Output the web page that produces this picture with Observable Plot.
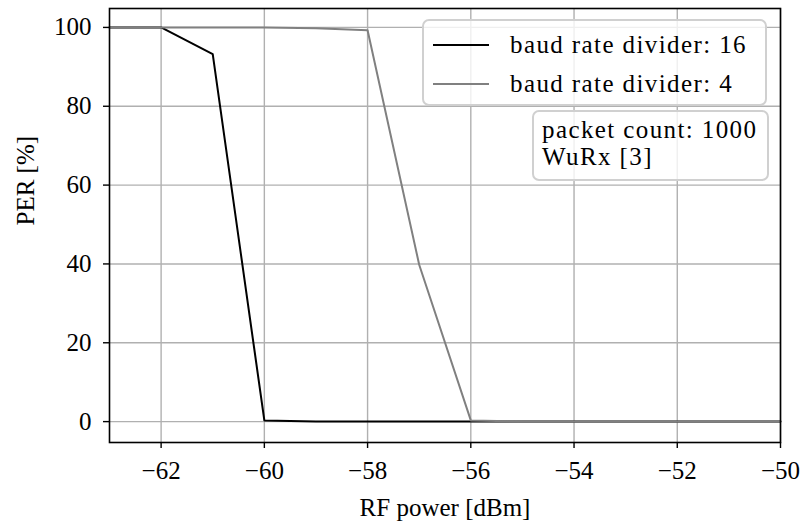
<!DOCTYPE html>
<html>
<head>
<meta charset="utf-8">
<script src="https://cdn.jsdelivr.net/npm/d3@7"></script>
<script src="https://cdn.jsdelivr.net/npm/@observablehq/plot@0.6"></script>
<style>
  html, body { margin: 0; padding: 0; background: #fff; }
  #wrap { position: relative; width: 805px; height: 525px; font-family: "Liberation Serif", serif; }
  .box { position: absolute; box-sizing: border-box; border: 2px solid #d0d0d0; border-radius: 7px; background: rgba(255,255,255,0.8); color: #000; font-size: 25px; letter-spacing: 1.4px; }
  .row { display: flex; align-items: center; height: 39px; }
  .row svg { margin-left: 9px; margin-right: 21px; }
</style>
</head>
<body>
<div id="wrap"></div>
<script>
const rfPower = [-63, -62, -61, -60, -59, -58, -57, -56, -55, -54, -53, -52, -51, -50];
const per16 = [100, 100, 93.2, 0.3, 0, 0, 0, 0, 0, 0, 0, 0, 0, 0];
const per4 = [100, 100, 100, 100, 99.8, 99.3, 39.8, 0.3, 0, 0, 0, 0, 0, 0];
const seriesNames = ["baud rate divider: 16", "baud rate divider: 4"];
const seriesColors = ["#000000", "#808080"];
const xTicks = [-62, -60, -58, -56, -54, -52, -50];
const yTicks = [0, 20, 40, 60, 80, 100];
const xLabel = "RF power [dBm]";
const yLabel = "PER [%]";
const noteLines = ["packet count: 1000", "WuRx [3]"];

const data = [];
rfPower.forEach((x, i) => data.push({x, y: per16[i], s: seriesNames[0]}));
rfPower.forEach((x, i) => data.push({x, y: per4[i], s: seriesNames[1]}));

const fmt = d => (d < 0 ? "\u2212" + Math.abs(d) : String(d));
const FS = 25;

const chart = Plot.plot({
  width: 805,
  height: 525,
  marginLeft: 109,
  marginRight: 25,
  marginTop: 8,
  marginBottom: 83,
  style: {fontFamily: "Liberation Serif, serif", fontSize: FS + "px", color: "#000", background: "#fff"},
  x: {domain: [-63, -50]},
  y: {domain: [-5.3, 104.8]},
  color: {domain: seriesNames, range: seriesColors},
  marks: [
    Plot.gridX(xTicks, {stroke: "#b0b0b0", strokeOpacity: 1, strokeWidth: 1.4}),
    Plot.gridY(yTicks, {stroke: "#b0b0b0", strokeOpacity: 1, strokeWidth: 1.4}),
    Plot.line(data, {x: "x", y: "y", z: "s", stroke: "s", strokeWidth: 2}),
    Plot.frame({stroke: "#000", strokeWidth: 1.6}),
    Plot.axisX(xTicks, {tickSize: 6, tickPadding: 13, tickFormat: fmt, label: null, stroke: "#000", strokeWidth: 1.4, fontSize: FS}),
    Plot.axisY(yTicks, {tickSize: 6, tickPadding: 12, tickFormat: fmt, label: null, stroke: "#000", strokeWidth: 1.4, fontSize: FS}),
    Plot.text([xLabel], {text: d => d, frameAnchor: "bottom", dy: 73, fontSize: FS}),
    Plot.text([yLabel], {text: d => d, frameAnchor: "left", rotate: -90, dx: -84, fontSize: FS})
  ]
});
const wrap = document.getElementById("wrap");
wrap.appendChild(chart);

// legend
const leg = document.createElement("div");
leg.className = "box";
Object.assign(leg.style, {left: "422px", top: "19px", width: "345px", height: "87px", paddingTop: "4px"});
seriesNames.forEach((name, i) => {
  const row = document.createElement("div");
  row.className = "row";
  row.innerHTML = `<svg width="56" height="4"><line x1="0" y1="2" x2="56" y2="2" stroke="${seriesColors[i]}" stroke-width="2"/></svg><span>${name}</span>`;
  leg.appendChild(row);
});
wrap.appendChild(leg);

// annotation
const note = document.createElement("div");
note.className = "box";
Object.assign(note.style, {left: "532px", top: "110px", width: "237px", height: "71px", padding: "4px 0 0 8px", lineHeight: "27px"});
note.innerHTML = noteLines.map(t => `<div>${t}</div>`).join("");
wrap.appendChild(note);
</script>
</body>
</html>
